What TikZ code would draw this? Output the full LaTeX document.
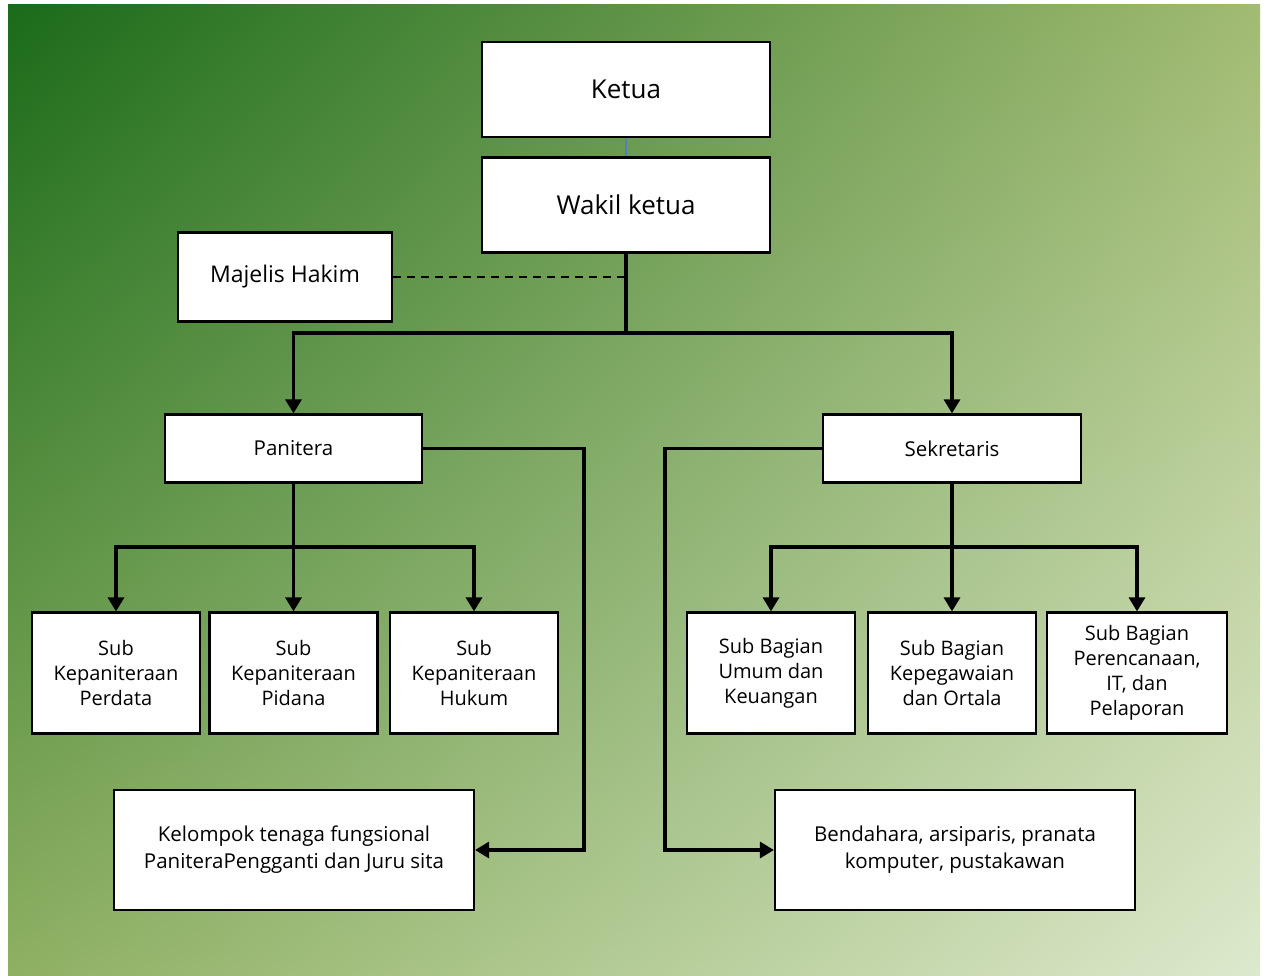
\documentclass[tikz,border=0pt]{standalone}
\usepackage{fontspec}
\setmainfont{Open Sans}
\usetikzlibrary{arrows.meta, shadings}
\definecolor{bg-dark}{HTML}{1A6B1A}
\definecolor{bg-topright}{HTML}{A2BB72}
\definecolor{bg-botleft}{HTML}{8EB062}
\definecolor{bg-light}{HTML}{DDE9CD}
\definecolor{link-blue}{HTML}{4F81BD}

\begin{document}
\begin{tikzpicture}[x=1pt, y=-1pt,
    box/.style={draw, line width=2.2pt, fill=white, align=center, inner sep=2pt},
    subbox/.style={box, minimum width=168pt, minimum height=121pt,
        font=\fontsize{20}{25}\selectfont},
    wide/.style={box, minimum width=360pt, minimum height=120pt,
        font=\fontsize{20.5}{27}\selectfont},
    link/.style={line width=3.2pt},
    arrow/.style={link, -{Triangle[width=16pt, length=14pt]}}]
    \useasboundingbox (0,0) rectangle (1266,976);
    % background
    \shade[upper left=bg-dark, upper right=bg-topright, lower left=bg-botleft,
           lower right=bg-light] (8,5) rectangle (1260,976);
    % top levels
    \node[box, minimum width=288pt, minimum height=95pt,
          font=\fontsize{26}{30}\selectfont] (ketua) at (626,89.5) {Ketua};
    \node[box, minimum width=288pt, minimum height=95pt,
          font=\fontsize{26}{30}\selectfont] (wakil) at (626,205) {Wakil ketua};
    \node[box, minimum width=214pt, minimum height=89pt,
          font=\fontsize{23}{26}\selectfont] (majelis) at (285,277) {Majelis Hakim};
    \node[box, minimum width=257pt, minimum height=68pt,
          font=\fontsize{20.5}{24}\selectfont] (panitera) at (293.5,448.5) {Panitera};
    \node[box, minimum width=258pt, minimum height=68pt,
          font=\fontsize{20.5}{24}\selectfont] (sekretaris) at (952,448.5) {Sekretaris};
    % sub units
    \node[subbox] (perdata) at (116,673) {Sub\\Kepaniteraan\\Perdata};
    \node[subbox] (pidana) at (293.5,673) {Sub\\Kepaniteraan\\Pidana};
    \node[subbox] (hukum) at (474,673) {Sub\\Kepaniteraan\\Hukum};
    \node[subbox] (umum) at (771,673) {Sub Bagian\\Umum dan\\Keuangan};
    \node[subbox] (pegawai) at (952,673) {Sub Bagian\\Kepegawaian\\dan Ortala};
    \node[subbox, minimum width=180pt] (rencana) at (1137,673)
          {Sub Bagian\\Perencanaan,\\IT, dan\\Pelaporan};
    \node[wide] (kelompok) at (294,850)
          {Kelompok tenaga fungsional\\PaniteraPengganti dan Juru sita};
    \node[wide] (bendahara) at (955,850)
          {Bendahara, arsiparis, pranata\\komputer, pustakawan};
    % connectors
    \coordinate (hub) at (626,333);
    \coordinate (pbus) at (293.5,547);
    \coordinate (sbus) at (952,547);
    \coordinate (pturn) at (584,448.5);
    \coordinate (sturn) at (665,448.5);
    \draw[link-blue, line width=1.6pt] (ketua.south) -- (wakil.north);
    \draw[line width=2.2pt, dash pattern=on 8pt off 6pt]
        (majelis.east) -- (majelis.east -| wakil.south);
    \draw[link] (wakil.south) -- (hub);
    \draw[arrow] (hub) -| (panitera.north);
    \draw[arrow] (hub) -| (sekretaris.north);
    \draw[link] (panitera.south) -- (pbus);
    \draw[arrow] (pbus) -| (perdata.north);
    \draw[arrow] (pbus) -- (pidana.north);
    \draw[arrow] (pbus) -| (hukum.north);
    \draw[link] (sekretaris.south) -- (sbus);
    \draw[arrow] (sbus) -| (umum.north);
    \draw[arrow] (sbus) -- (pegawai.north);
    \draw[arrow] (sbus) -| (rencana.north);
    \draw[arrow] (panitera.east) -- (pturn) |- (kelompok.east);
    \draw[arrow] (sekretaris.west) -- (sturn) |- (bendahara.west);
\end{tikzpicture}
\end{document}
